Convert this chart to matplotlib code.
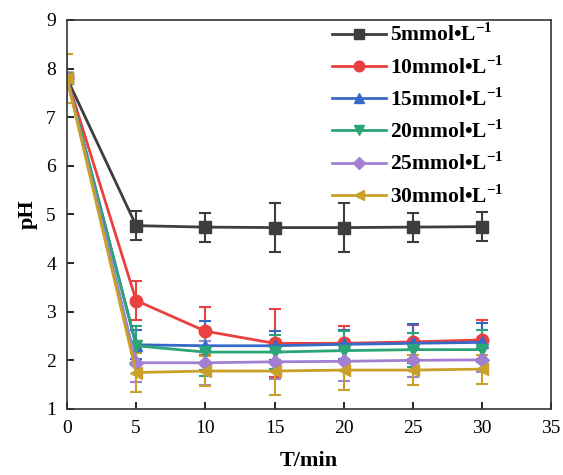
import matplotlib
matplotlib.use("Agg")
import matplotlib.pyplot as plt

plt.rcParams['font.family'] = ['Liberation Serif', 'DejaVu Serif']
plt.rcParams['mathtext.fontset'] = 'custom'
plt.rcParams['mathtext.rm'] = 'Liberation Serif:bold'
plt.rcParams['mathtext.bf'] = 'Liberation Serif:bold'

# Time points (min)
t = [0, 5, 10, 15, 20, 25, 30]

# pH values for each concentration
ph_5 = [7.80, 4.77, 4.74, 4.73, 4.73, 4.74, 4.75]
ph_10 = [7.80, 3.23, 2.60, 2.35, 2.35, 2.38, 2.42]
ph_15 = [7.80, 2.32, 2.30, 2.30, 2.33, 2.35, 2.37]
ph_20 = [7.80, 2.30, 2.17, 2.17, 2.20, 2.22, 2.22]
ph_25 = [7.80, 1.95, 1.95, 1.97, 1.98, 2.00, 2.01]
ph_30 = [7.80, 1.75, 1.78, 1.78, 1.80, 1.80, 1.82]

# error bars
err_5 = [0.10, 0.30, 0.30, 0.50, 0.50, 0.30, 0.30]
err_10 = [0.10, 0.40, 0.50, 0.70, 0.35, 0.35, 0.40]
err_15 = [0.10, 0.30, 0.50, 0.30, 0.30, 0.40, 0.40]
err_20 = [0.10, 0.40, 0.50, 0.35, 0.40, 0.35, 0.40]
err_25 = [0.10, 0.40, 0.45, 0.35, 0.40, 0.35, 0.25]
err_30 = [0.50, 0.40, 0.30, 0.50, 0.40, 0.30, 0.30]

labels = ['5mmol•L$^{-1}$', '10mmol•L$^{-1}$', '15mmol•L$^{-1}$',
          '20mmol•L$^{-1}$', '25mmol•L$^{-1}$', '30mmol•L$^{-1}$']
series = [ph_5, ph_10, ph_15, ph_20, ph_25, ph_30]
errors = [err_5, err_10, err_15, err_20, err_25, err_30]
colors = ['#3d3d3d', '#e8413f', '#3569c9', '#2aa676', '#a27fd1', '#c9a12a']
markers = ['s', 'o', '^', 'v', 'D', '<']
sizes = [8, 9, 8, 8, 7, 8]

fig = plt.figure(figsize=(5.63, 4.75), dpi=100)
ax = fig.add_axes([0.119, 0.139, 0.860, 0.819])

handles = []
for y, e, c, m, s, lab in zip(series, errors, colors, markers, sizes, labels):
    cont = ax.errorbar(t, y, yerr=e, color=c, marker=m, markersize=s, linewidth=2,
                       elinewidth=1.5, capsize=4, capthick=1.5, label=lab)
    handles.append(cont.lines[0])

ax.set_xlim(0, 35)
ax.set_ylim(1, 9)
ax.set_xticks(range(0, 36, 5))
ax.set_yticks(range(1, 10))
ax.tick_params(direction='in', length=5, width=1.2, labelsize=14, pad=8,
               top=False, right=False)
for sp in ax.spines.values():
    sp.set_linewidth(1.2)
    sp.set_color('#333333')

ax.set_xlabel('T/min', fontsize=16, fontweight='bold', labelpad=10)
ax.set_ylabel('pH', fontsize=16, fontweight='bold', labelpad=6)

leg = ax.legend(handles, labels, loc='upper right', frameon=False, fontsize=15.5,
                handlelength=2.5, borderaxespad=0.0, labelspacing=0.45,
                handletextpad=0.2, bbox_to_anchor=(0.92, 1.013), markerscale=0.85)
for txt in leg.get_texts():
    txt.set_fontweight('bold')

fig.savefig('out.png', dpi=100)
